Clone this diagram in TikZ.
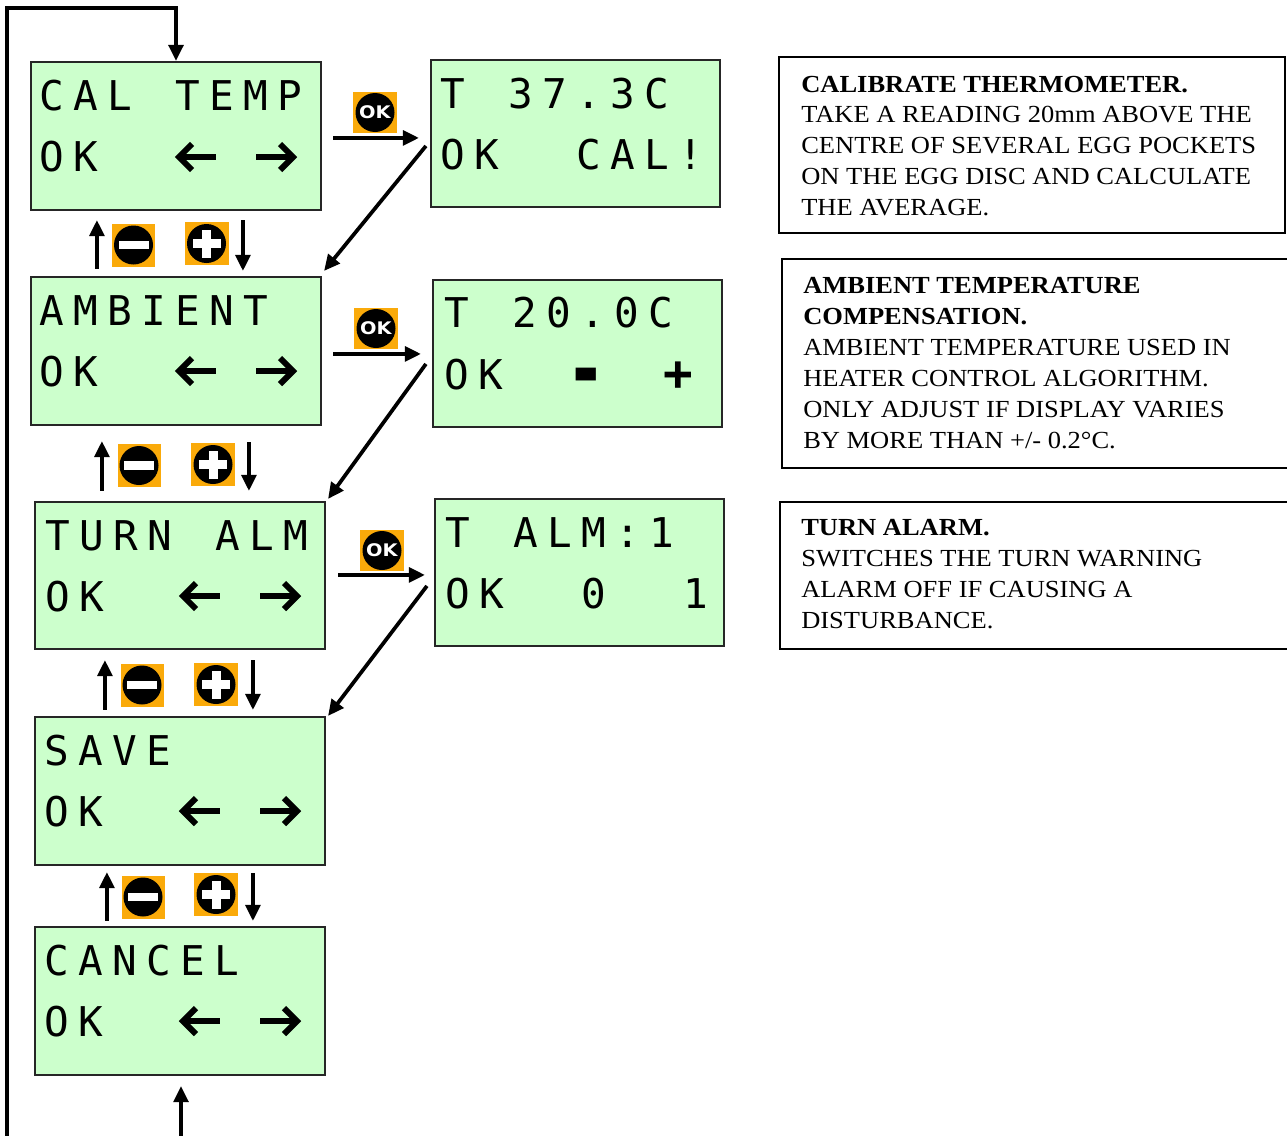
\documentclass[tikz,border=0pt]{standalone}
\usepackage{fontspec}
\setmainfont{Liberation Serif}
\newfontfamily\lcdfont{DejaVu Sans Mono}
\newfontfamily\descfont[FakeStretch=1.08]{Liberation Serif}
\newfontfamily\okfont{DejaVu Sans}
\usetikzlibrary{arrows.meta,calc,fit}
\definecolor{lcdgreen}{RGB}{204,255,204}
\definecolor{iconorange}{RGB}{250,170,10}
\makeatletter
\newcommand\lcdstr[1]{\@tfor\lcd@c:=#1\do{\makebox[25.5pt]{\lcd@c}}}
\makeatother
\tikzset{
  lcdbox/.style={draw=black!85, line width=1.6pt, fill=lcdgreen, inner sep=0pt},
  lcdtxt/.style={anchor=base west, inner sep=0pt, font=\lcdfont\fontsize{30.75pt}{36pt}\selectfont},
  lcdsym/.style={inner sep=0pt, font=\lcdfont\bfseries\fontsize{30.75pt}{36pt}\selectfont},
  descbox/.style={draw=black, line width=1.5pt, fill=white, inner sep=0pt},
  desctxt/.style={anchor=north west, inner sep=0pt, align=left, font=\descfont\fontsize{18.4pt}{23.2pt}\selectfont},
  arr/.style={line width=2.8pt, -{Triangle[length=12pt,width=11pt]}},
  lcdstroke/.style={line width=4.5pt, line join=miter},
  leftarrow/.pic={
    \draw[lcdstroke] (-17,0) -- (20,0);
    \draw[lcdstroke] (-4,-13) -- (-17,0) -- (-4,13);},
  rightarrow/.pic={
    \draw[lcdstroke] (17,0) -- (-20,0);
    \draw[lcdstroke] (4,-13) -- (17,0) -- (4,13);},
  minusicon/.pic={
    \fill[iconorange] (-21.5,-21.5) rectangle (21.5,21.5);
    \fill[black] (0,0) circle (19.5);
    \fill[white] (-15,-4.2) rectangle (15,4.2);},
  plusicon/.pic={
    \fill[iconorange] (-22,-21.5) rectangle (22,21.5);
    \fill[black] (0,0) circle (19.5);
    \fill[white] (-14,-4.5) rectangle (14,4.5);
    \fill[white] (-4.5,-14) rectangle (4.5,14);},
  okicon/.pic={
    \fill[iconorange] (-22,-20.5) rectangle (22,20.5);
    \fill[black] (0,0) circle (19.5);
    \node[text=white, inner sep=0pt, font=\okfont\bfseries\fontsize{13pt}{13pt}\selectfont] (-t) at (0,0) {\scalebox{1.12}[1]{OK}};}
}
\begin{document}
\begin{tikzpicture}[x=0.75pt,y=-0.75pt]
\useasboundingbox (0,0) rectangle (1287,1135);

% LCD boxes
\node[lcdbox, fit={(31,62) (321,210)}] (b1) {};
\node[lcdbox, fit={(431,60) (720,207)}] (b2) {};
\node[lcdbox, fit={(31,277) (321,425)}] (b3) {};
\node[lcdbox, fit={(433,280) (722,427)}] (b4) {};
\node[lcdbox, fit={(35,502) (325,649)}] (b5) {};
\node[lcdbox, fit={(435,499) (724,646)}] (b6) {};
\node[lcdbox, fit={(35,717) (325,865)}] (b7) {};
\node[lcdbox, fit={(35,927) (325,1075)}] (b8) {};

% LCD texts
\node[lcdtxt] (b1r1) at (35,110.5) {\lcdstr{CAL~TEMP}};
\node[lcdtxt] (b1r2) at (35,171) {\lcdstr{OK}};
\pic (b1l) at (196,157) {leftarrow};
\pic (b1r) at (276,157) {rightarrow};

\node[lcdtxt] (b2r1) at (436,108.5) {\lcdstr{T~37.3C}};
\node[lcdtxt] (b2r2) at (436,169) {\lcdstr{OK~~CAL!}};

\node[lcdtxt] (b3r1) at (35,325.5) {\lcdstr{AMBIENT}};
\node[lcdtxt] (b3r2) at (35,386) {\lcdstr{OK}};
\pic (b3l) at (196,371) {leftarrow};
\pic (b3r) at (276,371) {rightarrow};

\node[lcdtxt] (b4r1) at (440,327) {\lcdstr{T~20.0C}};
\node[lcdtxt] (b4r2) at (440,389) {\lcdstr{OK}};
\node[lcdsym] (b4m) at (586,384) {\scalebox{1.6}[2.2]{-}};
\node[lcdsym] (b4p) at (678,376) {\scalebox{1.2}{+}};

\node[lcdtxt] (b5r1) at (41,550.5) {\lcdstr{TURN~ALM}};
\node[lcdtxt] (b5r2) at (41,611) {\lcdstr{OK}};
\pic (b5l) at (200,596) {leftarrow};
\pic (b5r) at (280,596) {rightarrow};

\node[lcdtxt] (b6r1) at (441,547.5) {\lcdstr{T~ALM:1}};
\node[lcdtxt] (b6r2) at (441,608) {\lcdstr{OK~~0~~1}};

\node[lcdtxt] (b7r1) at (40,765.5) {\lcdstr{SAVE}};
\node[lcdtxt] (b7r2) at (40,826) {\lcdstr{OK}};
\pic (b7l) at (200,811) {leftarrow};
\pic (b7r) at (280,811) {rightarrow};

\node[lcdtxt] (b8r1) at (40,975.5) {\lcdstr{CANCEL}};
\node[lcdtxt] (b8r2) at (40,1036) {\lcdstr{OK}};
\pic (b8l) at (200,1021) {leftarrow};
\pic (b8r) at (280,1021) {rightarrow};

% description boxes
\node[descbox, fit={(779,57) (1285,233)}] (d1) {};
\node[desctxt] (d1t) at (801,75.5) {\textbf{CALIBRATE THERMOMETER.}\\TAKE A READING 20mm ABOVE THE\\CENTRE OF SEVERAL EGG POCKETS\\ON THE EGG DISC AND CALCULATE\\THE AVERAGE.};
\node[descbox, fit={(782,259) (1292,468)}] (d2) {};
\node[desctxt] (d2t) at (803,277.5) {\textbf{AMBIENT TEMPERATURE}\\\textbf{COMPENSATION.}\\AMBIENT TEMPERATURE USED IN\\HEATER CONTROL ALGORITHM.\\ONLY ADJUST IF DISPLAY VARIES\\BY MORE THAN +/- 0.2°C.};
\node[descbox, fit={(780,502) (1292,649)}] (d3) {};
\node[desctxt] (d3t) at (801,519.5) {\textbf{TURN ALARM.}\\SWITCHES THE TURN WARNING\\ALARM OFF IF CAUSING A\\DISTURBANCE.};

% OK icons and OK arrows
\pic (ok1) at (375,112.5) {okicon};
\pic (ok2) at (376,328.5) {okicon};
\pic (ok3) at (382,550.5) {okicon};
\draw[arr] ($(b1.north east)+(11,77)$) -- ($(b2.north west)+(-11,79)$);
\draw[arr] ($(b3.north east)+(11,78)$) -- ($(b4.north west)+(-11,75)$);
\draw[arr] ($(b5.north east)+(12,74)$) -- ($(b6.north west)+(-9,77)$);

% return diagonals
\draw[arr] ($(b2.north west)+(-4,87)$) -- ($(b3.north east)+(2,-5)$);
\draw[arr] ($(b4.north west)+(-6,85)$) -- ($(b5.north east)+(2,-2)$);
\draw[arr] ($(b6.north west)+(-7,88)$) -- ($(b7.north east)+(2,0)$);

% minus / plus navigation
\pic (mi1) at (133.5,245) {minusicon};
\pic (pl1) at (206.5,243.5) {plusicon};
\draw[arr] ($(b3.north west)+(67,-7)$) -- ($(b1.south west)+(67,9)$);
\draw[arr] ($(b1.south west)+(213,9)$) -- ($(b3.north west)+(213,-5)$);

\pic (mi2) at (139,465.5) {minusicon};
\pic (pl2) at (213,464.5) {plusicon};
\draw[arr] ($(b5.north west)+(68,-10)$) -- ($(b3.south west)+(72,15)$);
\draw[arr] ($(b3.south west)+(219,16)$) -- ($(b5.north west)+(215,-10)$);

\pic (mi3) at (142,685) {minusicon};
\pic (pl3) at (216,684.5) {plusicon};
\draw[arr] ($(b7.north west)+(71,-6)$) -- ($(b5.south west)+(71,10)$);
\draw[arr] ($(b5.south west)+(219,10)$) -- ($(b7.north west)+(219,-6)$);

\pic (mi4) at (143,897) {minusicon};
\pic (pl4) at (216,894.5) {plusicon};
\draw[arr] ($(b8.north west)+(73,-5)$) -- ($(b7.south west)+(73,6)$);
\draw[arr] ($(b7.south west)+(219,7)$) -- ($(b8.north west)+(219,-5)$);

% loop back
\coordinate (lbot) at (7,1145);
\coordinate (ltop) at (7,8);
\draw[arr] (lbot) -- (ltop) -| (b1.north);
\coordinate (rbot) at (181,1145);
\draw[arr, shorten >=7.5pt] (rbot) -- (rbot |- b8.south);
\end{tikzpicture}
\end{document}
